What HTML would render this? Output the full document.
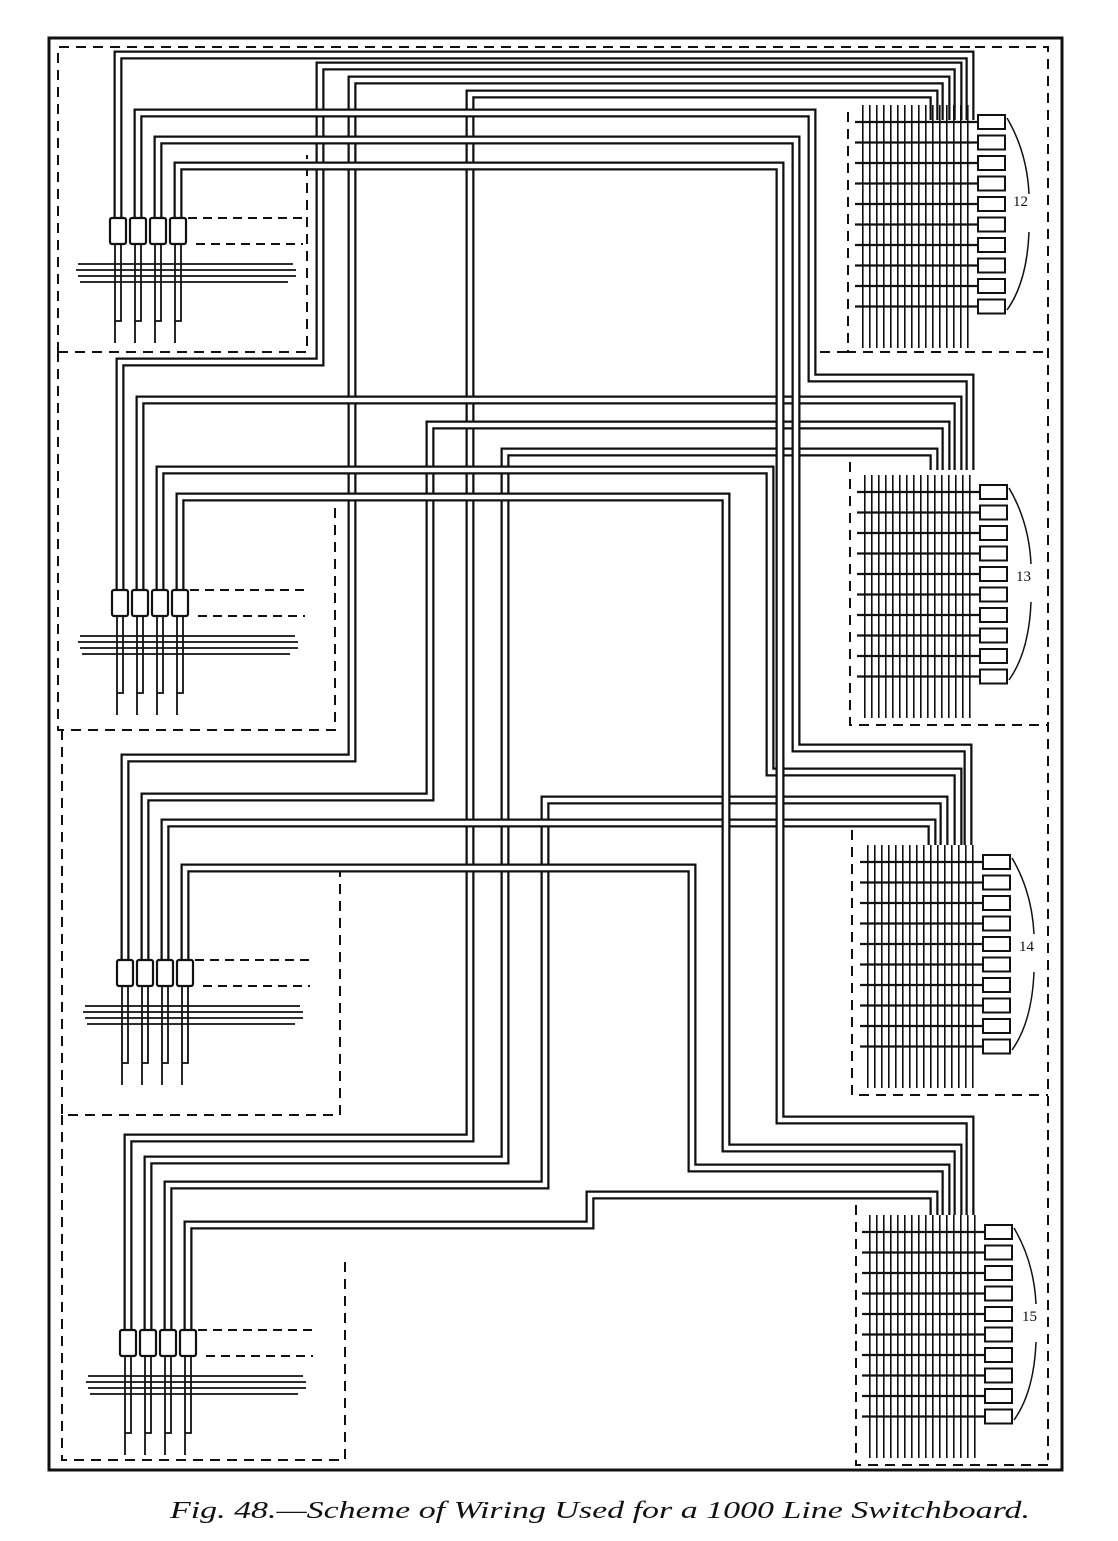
<!DOCTYPE html>
<html><head><meta charset="utf-8"><style>
html,body{margin:0;padding:0;background:#fff;}
svg{display:block}
</style></head><body>
<svg width="1118" height="1541" viewBox="0 0 1118 1541" xmlns="http://www.w3.org/2000/svg">
<defs>
<pattern id="vl" x="0" y="0" width="7" height="10" patternUnits="userSpaceOnUse">
<rect x="0" y="0" width="1.6" height="10" fill="#111"/>
</pattern>
<g id="panel">
<rect x="7" y="-17" width="112" height="243" fill="url(#vl)"/>
<g stroke="#111" stroke-width="2.2">
<line x1="0" y1="0" x2="123" y2="0"/><line x1="0" y1="20.5" x2="123" y2="20.5"/>
<line x1="0" y1="41" x2="123" y2="41"/><line x1="0" y1="61.5" x2="123" y2="61.5"/>
<line x1="0" y1="82" x2="123" y2="82"/><line x1="0" y1="102.5" x2="123" y2="102.5"/>
<line x1="0" y1="123" x2="123" y2="123"/><line x1="0" y1="143.5" x2="123" y2="143.5"/>
<line x1="0" y1="164" x2="123" y2="164"/><line x1="0" y1="184.5" x2="123" y2="184.5"/>
</g>
<g fill="#fff" stroke="#111" stroke-width="2">
<rect x="123" y="-7" width="27" height="14"/><rect x="123" y="13.5" width="27" height="14"/>
<rect x="123" y="34" width="27" height="14"/><rect x="123" y="54.5" width="27" height="14"/>
<rect x="123" y="75" width="27" height="14"/><rect x="123" y="95.5" width="27" height="14"/>
<rect x="123" y="116" width="27" height="14"/><rect x="123" y="136.5" width="27" height="14"/>
<rect x="123" y="157" width="27" height="14"/><rect x="123" y="177.5" width="27" height="14"/>
</g>
<path d="M152,-4 Q172,30 174,72 M174,110 Q172,160 152,188" fill="none" stroke="#111" stroke-width="1.5"/>
</g>
<g id="relays">
<g stroke="#111" stroke-width="1.8">
<line x1="-40" y1="46" x2="175" y2="46"/><line x1="-42" y1="52" x2="178" y2="52"/>
<line x1="-40" y1="58" x2="178" y2="58"/><line x1="-38" y1="64" x2="170" y2="64"/>
</g>
<g stroke="#111" stroke-width="1.8" fill="none">
<path d="M-3,26 V103 H3 V26 M-3,103 V125"/>
<path d="M17,26 V103 H23 V26 M17,103 V125"/>
<path d="M37,26 V103 H43 V26 M37,103 V125"/>
<path d="M57,26 V103 H63 V26 M57,103 V125"/>
</g>
<g fill="#fff" stroke="#111" stroke-width="2.2">
<rect x="-8" y="0" width="16" height="26" rx="2"/><rect x="12" y="0" width="16" height="26" rx="2"/>
<rect x="32" y="0" width="16" height="26" rx="2"/><rect x="52" y="0" width="16" height="26" rx="2"/>
</g>
<g stroke="#111" stroke-width="2" stroke-dasharray="9,6">
<line x1="70" y1="0" x2="185" y2="0"/><line x1="78" y1="26" x2="185" y2="26"/>
</g>
</g>
<path id="c16" d="M188,1330 V1225 H590 V1195 H934 V1215"/>
<path id="c15" d="M168,1330 V1185 H545 V800 H944 V845"/>
<path id="c14" d="M148,1330 V1160 H505 V452 H934 V470"/>
<path id="c13" d="M128,1330 V1138 H470 V94 H934 V120"/>
<path id="c12" d="M185,960 V868 H692 V1168 H946 V1215"/>
<path id="c11" d="M165,960 V823 H932 V845"/>
<path id="c10" d="M145,960 V797 H430 V425 H946 V470"/>
<path id="c9" d="M125,960 V758 H352 V80 H946 V120"/>
<path id="c8" d="M180,590 V497 H726 V1148 H958 V1215"/>
<path id="c7" d="M160,590 V470 H770 V772 H958 V845"/>
<path id="c6" d="M140,590 V400 H958 V470"/>
<path id="c5" d="M120,590 V362 H320 V66 H958 V120"/>
<path id="c4" d="M178,218 V166 H780 V1120 H970 V1215"/>
<path id="c3" d="M158,218 V140 H796 V748 H968 V845"/>
<path id="c2" d="M138,218 V113 H812 V378 H970 V470"/>
<path id="c1" d="M118,218 V55 H970 V120"/>
</defs>

<rect x="49" y="38" width="1013" height="1432" fill="none" stroke="#111" stroke-width="3"/>

<g fill="none" stroke="#111" stroke-width="2" stroke-dasharray="10,7">
<path d="M58,352 V47 H975"/>
<path d="M58,352 H307 V155"/>
<path d="M58,352 V730 H335 V500"/>
<path d="M62,730 V1115 H340 V870"/>
<path d="M62,1115 V1460 H345 V1260"/>
<path d="M975,47 H1048 V1460"/>
<path d="M848,112 V352 H1048"/>
<path d="M820,352 H848"/>
<path d="M850,462 V725 H1048"/>
<path d="M852,830 V1095 H1048"/>
<path d="M856,1205 V1465 H1048"/>
</g>

<g fill="none">
<use href="#c16" stroke="#111" stroke-width="9"/><use href="#c16" stroke="#fff" stroke-width="4.5"/>
<use href="#c15" stroke="#111" stroke-width="9"/><use href="#c15" stroke="#fff" stroke-width="4.5"/>
<use href="#c14" stroke="#111" stroke-width="9"/><use href="#c14" stroke="#fff" stroke-width="4.5"/>
<use href="#c13" stroke="#111" stroke-width="9"/><use href="#c13" stroke="#fff" stroke-width="4.5"/>
<use href="#c12" stroke="#111" stroke-width="9"/><use href="#c12" stroke="#fff" stroke-width="4.5"/>
<use href="#c11" stroke="#111" stroke-width="9"/><use href="#c11" stroke="#fff" stroke-width="4.5"/>
<use href="#c10" stroke="#111" stroke-width="9"/><use href="#c10" stroke="#fff" stroke-width="4.5"/>
<use href="#c9" stroke="#111" stroke-width="9"/><use href="#c9" stroke="#fff" stroke-width="4.5"/>
<use href="#c8" stroke="#111" stroke-width="9"/><use href="#c8" stroke="#fff" stroke-width="4.5"/>
<use href="#c7" stroke="#111" stroke-width="9"/><use href="#c7" stroke="#fff" stroke-width="4.5"/>
<use href="#c6" stroke="#111" stroke-width="9"/><use href="#c6" stroke="#fff" stroke-width="4.5"/>
<use href="#c5" stroke="#111" stroke-width="9"/><use href="#c5" stroke="#fff" stroke-width="4.5"/>
<use href="#c4" stroke="#111" stroke-width="9"/><use href="#c4" stroke="#fff" stroke-width="4.5"/>
<use href="#c3" stroke="#111" stroke-width="9"/><use href="#c3" stroke="#fff" stroke-width="4.5"/>
<use href="#c2" stroke="#111" stroke-width="9"/><use href="#c2" stroke="#fff" stroke-width="4.5"/>
<use href="#c1" stroke="#111" stroke-width="9"/><use href="#c1" stroke="#fff" stroke-width="4.5"/>
</g>

<use href="#relays" x="118" y="218"/>
<use href="#relays" x="120" y="590"/>
<use href="#relays" x="125" y="960"/>
<use href="#relays" x="128" y="1330"/>

<use href="#panel" x="855" y="122"/>
<use href="#panel" x="857" y="492"/>
<use href="#panel" x="860" y="862"/>
<use href="#panel" x="862" y="1232"/>

<g font-family="'Liberation Serif', serif" font-size="15" fill="#111">
<text x="1013" y="206">12</text>
<text x="1016" y="581">13</text>
<text x="1019" y="951">14</text>
<text x="1022" y="1321">15</text>
</g>

<text x="170" y="1518" textLength="860" lengthAdjust="spacingAndGlyphs" font-family="'Liberation Serif', serif" font-style="italic" font-size="24" fill="#111">Fig. 48.—Scheme of Wiring Used for a 1000 Line Switchboard.</text>
</svg>
</body></html>
